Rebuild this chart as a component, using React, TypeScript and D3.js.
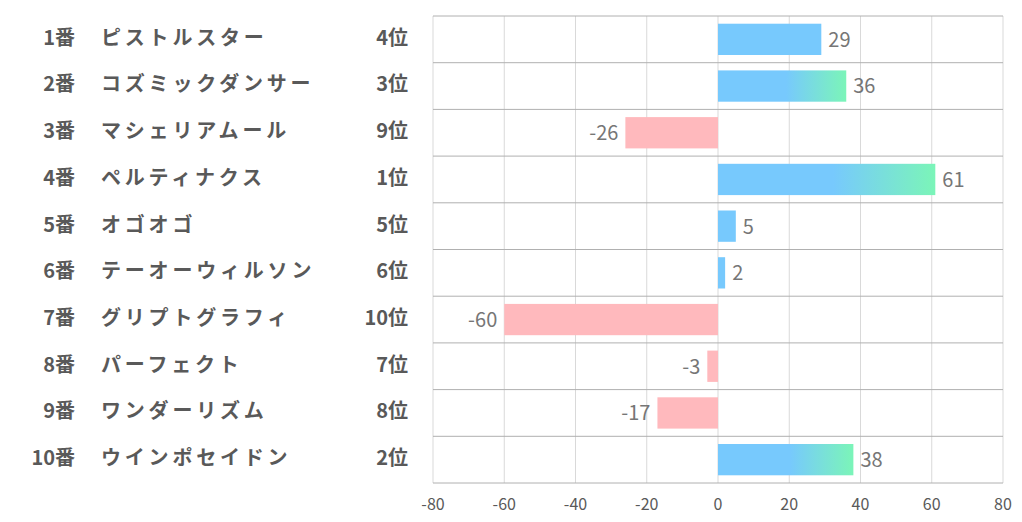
import React from 'react';
import * as d3 from 'd3';

const numbers = ['1番', '2番', '3番', '4番', '5番', '6番', '7番', '8番', '9番', '10番'];
const names = ['ピストルスター', 'コズミックダンサー', 'マシェリアムール', 'ペルティナクス', 'オゴオゴ', 'テーオーウィルソン', 'グリプトグラフィ', 'パーフェクト', 'ワンダーリズム', 'ウインポセイドン'];
const ranks = ['4位', '3位', '9位', '1位', '5位', '6位', '10位', '7位', '8位', '2位'];
const values = [29, 36, -26, 61, 5, 2, -60, -3, -17, 38];
const xTicks = [-80, -60, -40, -20, 0, 20, 40, 60, 80];

const W = 1022;
const H = 522;
const font = '"Noto Sans CJK JP", "Noto Sans", sans-serif';

const App = () => {
  const x = d3.scaleLinear().domain([-80, 80]).range([433, 1003]);
  const y = d3.scaleBand<number>()
    .domain(d3.range(values.length))
    .range([16, 483])
    .paddingInner(0.33)
    .paddingOuter(0.165);
  const step = y.step();
  const rowTop = (i: number) => 16 + i * step;
  const topRanks = ['1位', '2位', '3位'];

  return (
    <svg width={W} height={H} style={{ position: 'absolute', left: 0, top: 0, background: '#fff' }}>
      <defs>
        <linearGradient id="topGrad" x1="0" x2="1" y1="0" y2="0">
          <stop offset="0" stopColor="#77c9fd" />
          <stop offset="0.53" stopColor="#77c9fd" />
          <stop offset="1" stopColor="#7bf5b8" />
        </linearGradient>
      </defs>

      {/* vertical gridlines */}
      {xTicks.map(t => (
        <line key={t} x1={x(t)} x2={x(t)} y1={16} y2={483} stroke="#d9d9d9" strokeWidth={1} />
      ))}
      {/* row separators */}
      {d3.range(values.length + 1).map(i => (
        <line key={i} x1={433} x2={1003} y1={rowTop(i)} y2={rowTop(i)} stroke="#b0b0b0" strokeWidth={1} />
      ))}

      {/* bars */}
      {values.map((v, i) => {
        const x0 = x(Math.min(0, v));
        const w = Math.abs(x(v) - x(0));
        const fill = v < 0 ? '#ffb9bd' : topRanks.includes(ranks[i]) ? 'url(#topGrad)' : '#77c9fd';
        return <rect key={i} x={x0} y={y(i)} width={w} height={y.bandwidth()} fill={fill} />;
      })}

      {/* value labels */}
      {values.map((v, i) => (
        <text
          key={i}
          x={v >= 0 ? x(v) + 7 : x(v) - 7}
          y={(y(i) as number) + y.bandwidth() / 2 + 2}
          textAnchor={v >= 0 ? 'start' : 'end'}
          dominantBaseline="middle"
          fontFamily={font}
          fontSize={20}
          fill="#767676"
        >
          {v}
        </text>
      ))}

      {/* row labels */}
      {values.map((_, i) => {
        const cy = rowTop(i) + step / 2;
        return (
          <g key={i} fontFamily={font} fontSize={20} fontWeight="bold" fill="#595959">
            <text x={75} y={cy} textAnchor="end" dominantBaseline="middle">{numbers[i]}</text>
            <text x={101} y={cy} dominantBaseline="middle" letterSpacing={3.8}>{names[i]}</text>
            <text x={408} y={cy} textAnchor="end" dominantBaseline="middle">{ranks[i]}</text>
          </g>
        );
      })}

      {/* x axis labels */}
      {xTicks.map(t => (
        <text
          key={t}
          x={x(t)}
          y={506}
          textAnchor="middle"
          dominantBaseline="middle"
          fontFamily={font}
          fontSize={16}
          fill="#595959"
        >
          {t}
        </text>
      ))}
    </svg>
  );
};

export default App;
